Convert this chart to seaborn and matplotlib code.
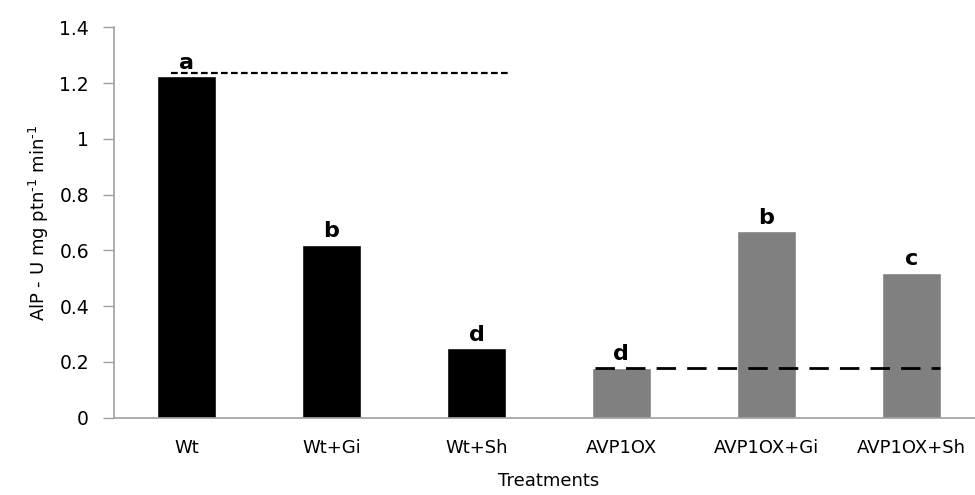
import pandas as pd
import matplotlib
matplotlib.use('Agg')
import matplotlib.pyplot as plt
import seaborn as sns

# Dados
tratamentos = ['Wt', 'Wt+Gi', 'Wt+Sh', 'AVP1OX', 'AVP1OX+Gi', 'AVP1OX+Sh']
grupo = ['Wt', 'Wt', 'Wt', 'OX', 'OX', 'OX']
atividade = [1.225, 0.62, 0.25, 0.18, 0.67, 0.52]
letras = ['a', 'b', 'd', 'd', 'b', 'c']
nivel_wt = 1.235
nivel_ox = 0.18

df = pd.DataFrame({'Treatments': tratamentos, 'grupo': grupo, 'valor': atividade})

sns.set_style('white')
plt.rcParams['font.family'] = ['DejaVu Sans']
plt.rcParams['mathtext.default'] = 'regular'
plt.rcParams['text.color'] = 'black'
plt.rcParams['axes.labelcolor'] = 'black'

fig = plt.figure(figsize=(9.75, 4.95), dpi=100)
ax = fig.add_axes([0.117, 0.156, 0.892, 0.789])

sns.barplot(data=df, x='Treatments', y='valor', hue='grupo',
            palette={'Wt': 'black', 'OX': '#808080'}, width=0.41,
            dodge=False, legend=False, ax=ax, saturation=1)

# Letras de significância
for i, (v, l) in enumerate(zip(atividade, letras)):
    ax.text(i, v + 0.012, l, ha='center', va='bottom', fontsize=16,
            fontweight='bold', color='black')

# Linhas tracejadas de referência
ax.plot([-0.11, 2.23], [nivel_wt, nivel_wt], color='black', lw=1.6,
        linestyle=(0, (3, 1.5)))
ax.plot([2.82, 5.2], [nivel_ox, nivel_ox], color='black', lw=2,
        linestyle=(0, (7, 4)))

ax.set_xlim(-0.5, 5.5)
ax.set_ylim(0, 1.4)
ax.set_yticks([0, 0.2, 0.4, 0.6, 0.8, 1, 1.2, 1.4])
ax.set_yticklabels(['0', '0.2', '0.4', '0.6', '0.8', '1', '1.2', '1.4'])

ax.set_ylabel(r'AlP - U mg ptn$^{\text{-}1}$ min$^{\text{-}1}$', fontsize=13, labelpad=6)
ax.set_xlabel('Treatments', fontsize=13, labelpad=11)

ax.tick_params(axis='y', length=8, width=1, color='#a0a0a0', labelsize=13.5,
               labelcolor='black', direction='out', left=True, pad=10)
ax.tick_params(axis='x', length=0, labelsize=13, labelcolor='black', pad=15)

for s in ['top', 'right']:
    ax.spines[s].set_visible(False)
for s in ['left', 'bottom']:
    ax.spines[s].set_color('#a0a0a0')
    ax.spines[s].set_linewidth(1.2)

plt.savefig('out.png', dpi=100)
